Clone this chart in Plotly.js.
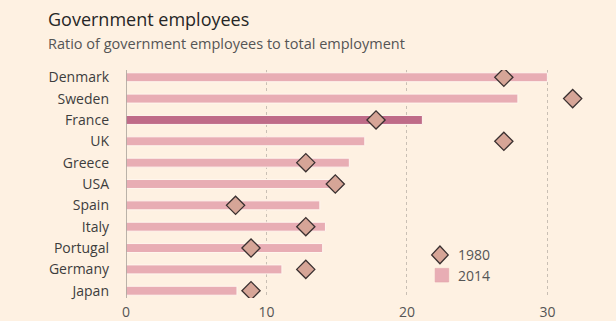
<!DOCTYPE html>
<html><head><meta charset="utf-8">
<script src="https://cdn.plot.ly/plotly-3.0.1.min.js"></script>
<style>html,body{margin:0;padding:0;background:#fef1e2;}#c{width:616px;height:321px;}</style>
</head><body><div id="c"></div>
<script>
const countries = ["Denmark","Sweden","France","UK","Greece","USA","Spain","Italy","Portugal","Germany","Japan"];
const v2014 = [30.0, 27.9, 21.1, 17.0, 15.9, 15.4, 13.8, 14.2, 14.0, 11.1, 7.9];
const v1980 = [26.9, 31.8, 17.8, 26.9, 12.8, 14.9, 7.8, 12.8, 8.9, 12.8, 8.9];
const highlight = "France";
const xTicks = [0, 10, 20, 30];

const barColors = countries.map(c => c === highlight ? "#bf6b88" : "#e8adb4");

const data = [
  {type:"bar", orientation:"h", name:"2014", y:countries, x:v2014,
   marker:{color:barColors, line:{color:"#fff6ee", width:1}}, width:0.42,
   hoverinfo:"skip"},
  {type:"scatter", mode:"markers", name:"1980", y:countries, x:v1980,
   marker:{symbol:"diamond", size:14, color:"#d6a597", line:{color:"#3a3030", width:1.3}},
   hoverinfo:"skip"}
];

const layout = {
  width:616, height:321,
  paper_bgcolor:"#fef1e2", plot_bgcolor:"#fef1e2",
  margin:{l:126, r:4, t:70, b:23},
  showlegend:false,
  font:{family:"Open Sans, sans-serif", color:"#333"},
  xaxis:{range:[0, 34.6], tickvals:xTicks, ticktext:xTicks.map(String),
    showgrid:true, gridcolor:"#c9bfb4", griddash:"dot", gridwidth:1,
    zeroline:false, showline:false, ticks:"", ticklabelstandoff:4, tickfont:{size:14, color:"#555"}},
  yaxis:{type:"category", categoryorder:"array", categoryarray:countries,
    range:[10.34, -0.34], showgrid:false, zeroline:false,
    showline:false, ticks:"", ticklabelstandoff:16, tickfont:{size:14, color:"#3d3d3d"}},
  shapes:[
    {type:"line", xref:"x", yref:"paper", x0:0, x1:0, y0:0, y1:1, line:{color:"#a39c95", width:1.5}},
  ],
  annotations:[
    {text:"Government employees", xref:"paper", yref:"paper", x:-0.165, y:1.0, xanchor:"left", yanchor:"bottom",
     yshift:37, showarrow:false, font:{size:18, color:"#262626"}},
    {text:"Ratio of government employees to total employment", xref:"paper", yref:"paper", x:-0.165, y:1.0,
     xanchor:"left", yanchor:"bottom", yshift:15, showarrow:false, font:{size:14.5, color:"#555"}},
    {text:"1980", xref:"paper", yref:"paper", x:0.678, y:0.192, xanchor:"left", yanchor:"middle", showarrow:false, font:{size:14, color:"#555"}},
    {text:"2014", xref:"paper", yref:"paper", x:0.678, y:0.1, xanchor:"left", yanchor:"middle", showarrow:false, font:{size:14, color:"#555"}}
  ]
};
// legend symbols as shapes in paper coords
layout.shapes.push({type:"path", xref:"paper", yref:"paper",
  path:"M0.629,0.189 L0.646,0.228 L0.663,0.189 L0.646,0.150 Z",
  fillcolor:"#d6a597", line:{color:"#3a3030", width:1.3}});
layout.shapes.push({type:"rect", xref:"paper", yref:"paper", x0:0.636, x1:0.664, y0:0.07, y1:0.13,
  fillcolor:"#e8adb4", line:{color:"#e0a0a8", width:0.5}});

Plotly.newPlot("c", data, layout, {staticPlot:true, displayModeBar:false});
</script></body></html>
